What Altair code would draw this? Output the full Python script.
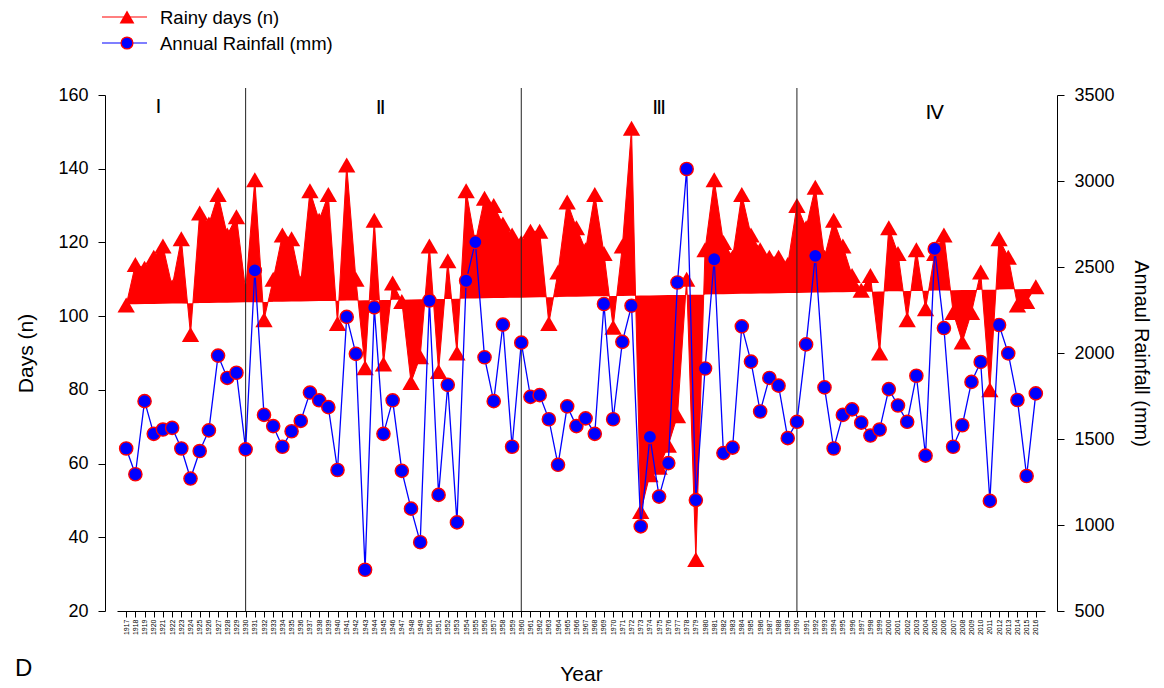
import altair as alt
import pandas as pd

years = list(range(1917, 2017))
rainy_days = [
    103, 114, 113, 116, 119, 108, 121, 95, 128, 125,   # 1917-1926
    133, 122, 127, 107, 137, 99, 110, 122, 121, 109,   # 1927-1936
    134, 126, 133, 98, 141, 110, 86, 126, 87, 109,     # 1937-1946
    104, 82, 89, 119, 85, 115, 90, 134, 120, 132,      # 1947-1956
    130, 125, 122, 120, 123, 123, 98, 112, 131, 124,   # 1957-1966
    118, 133, 117, 97, 119, 151, 47, 57, 59, 65,       # 1967-1976
    73, 110, 34, 118, 137, 120, 116, 133, 122, 118,    # 1977-1986
    116, 116, 114, 130, 124, 135, 116, 126, 119, 111,  # 1987-1996
    107, 111, 90, 124, 117, 99, 118, 102, 117, 122,    # 1997-2006
    101, 93, 101, 112, 80, 121, 116, 103, 104, 108,    # 2007-2016
]
annual_rainfall = [
    1445, 1295, 1720, 1530, 1555, 1565, 1445, 1270, 1430, 1550,
    1985, 1855, 1885, 1440, 2480, 1640, 1575, 1455, 1545, 1605,
    1770, 1725, 1685, 1320, 2210, 1995, 740, 2265, 1530, 1725,
    1315, 1095, 900, 2305, 1175, 1815, 1015, 2420, 2645, 1975,
    1720, 2165, 1455, 2060, 1745, 1755, 1615, 1350, 1690, 1575,
    1620, 1530, 2285, 1615, 2065, 2275, 992, 1512, 1165, 1360,
    2410, 3070, 1145, 1910, 2545, 1418, 1450, 2155, 1950, 1660,
    1855, 1810, 1505, 1600, 2050, 2565, 1800, 1445, 1640, 1672,
    1595, 1520, 1555, 1790, 1695, 1600, 1868, 1403, 2605, 2145,
    1455, 1580, 1832, 1948, 1140, 2163, 1998, 1727, 1285, 1765,
]
trend_start = 103.2   # rainy-days trend line at 1917
trend_end = 107.4     # rainy-days trend line at 2016
period_bounds = [1930, 1960, 1990]
period_labels = ["I", "Ⅱ", "Ⅲ", "Ⅳ"]
period_label_x = [1920.5, 1944.7, 1975.0, 2005.0]
period_label_y = [156.7, 156.5, 156.5, 155.0]
legend_labels = ["Rainy days (n)", "Annual Rainfall (mm)"]

W, H = 928, 516
FONT = "Liberation Sans"
RED = "#FF0000"
BLUE = "#0000FF"

df = pd.DataFrame({"year": years, "days": rainy_days, "rain": annual_rainfall})
bounds_df = pd.DataFrame({"year": period_bounds})
roman_df = pd.DataFrame({"x": period_label_x, "y": period_label_y, "t": period_labels})
one = pd.DataFrame({"k": [0]})

x_scale = alt.Scale(domain=[1916, 2017], nice=False, zero=False)
x_axis = alt.Axis(title="Year", values=years, format="d", labelAngle=270,
                  labelFontSize=7, labelPadding=2, tickSize=6, titleFontSize=21,
                  titlePadding=29, labelOverlap=False, labelFlush=False)
left_scale = alt.Scale(domain=[20, 160], nice=False, zero=False)
left_axis = alt.Axis(title="Days (n)", values=list(range(20, 161, 20)), offset=12,
                     tickSize=7, labelFontSize=18, labelPadding=10,
                     titleFontSize=21, titlePadding=21)
right_scale = alt.Scale(domain=[500, 3500], nice=False, zero=False)
right_axis = alt.Axis(title="Annaul Rainfall (mm)", values=list(range(500, 3501, 500)),
                      format="d", orient="right", offset=12, tickSize=7,
                      labelFontSize=18, labelPadding=10, titleFontSize=20,
                      titlePadding=16)


def X(field):
    return alt.X(field, type="quantitative", scale=x_scale, axis=x_axis)


def YL(field):
    return alt.Y(field, type="quantitative", scale=left_scale, axis=left_axis)


def YR(field):
    return alt.Y(field, type="quantitative", scale=right_scale, axis=right_axis)


trend_expr = f"{trend_start} + ({trend_end} - {trend_start}) * (datum.year - 1917) / 99"

area = alt.Chart(df).transform_calculate(trend=trend_expr).mark_area(
    color=RED, opacity=1
).encode(x=X("year"), y=YL("days"), y2=alt.Y2("trend"))

red_line = alt.Chart(df).mark_line(color=RED, strokeWidth=1).encode(
    x=X("year"), y=YL("days"))

triangles = alt.Chart(df).mark_point(
    shape="triangle-up", filled=True, size=300, color=RED, opacity=1
).encode(x=X("year"), y=YL("days"))

rules = alt.Chart(bounds_df).mark_rule(color="#222222", strokeWidth=1).encode(
    x=X("year"), y=alt.value(-7), y2=alt.value(H))

roman = alt.Chart(roman_df).mark_text(
    font="DejaVu Sans", fontSize=20, color="black", baseline="middle"
).encode(x=X("x"), y=YL("y"), text="t:N")

left = alt.layer(area, red_line, triangles, rules, roman)

blue_line = alt.Chart(df).mark_line(color=BLUE, strokeWidth=1.3).encode(
    x=X("year"), y=YR("rain"))
circles = alt.Chart(df).mark_point(
    shape="circle", filled=True, size=175, fill=BLUE, stroke=RED,
    strokeWidth=1.4, opacity=1
).encode(x=X("year"), y=YR("rain"))

# legend (drawn by hand above the plot)
leg_line1 = alt.Chart(one).mark_rule(color=RED, strokeWidth=1.2).encode(
    x=alt.value(-15), x2=alt.value(30), y=alt.value(-78))
leg_tri = alt.Chart(one).mark_point(
    shape="triangle-up", filled=True, size=220, color=RED, opacity=1
).encode(x=alt.value(10), y=alt.value(-78))
leg_text1 = alt.Chart(one).mark_text(
    font=FONT, fontSize=18.5, align="left", baseline="middle", color="black",
    text=legend_labels[0]
).encode(x=alt.value(43), y=alt.value(-77))
leg_line2 = alt.Chart(one).mark_rule(color=BLUE, strokeWidth=1.2).encode(
    x=alt.value(-15), x2=alt.value(30), y=alt.value(-52))
leg_circ = alt.Chart(one).mark_point(
    shape="circle", filled=True, size=140, fill=BLUE, stroke=RED,
    strokeWidth=1.3, opacity=1
).encode(x=alt.value(10), y=alt.value(-52))
leg_text2 = alt.Chart(one).mark_text(
    font=FONT, fontSize=18.5, align="left", baseline="middle", color="black",
    text=legend_labels[1]
).encode(x=alt.value(43), y=alt.value(-51))
panel = alt.Chart(one).mark_text(
    font=FONT, fontSize=24, align="left", baseline="top", color="black", text="D"
).encode(x=alt.value(-102), y=alt.value(562))

right = alt.layer(blue_line, circles, leg_line1, leg_tri, leg_text1,
                  leg_line2, leg_circ, leg_text2, panel)

chart = alt.layer(left, right).resolve_scale(y="independent").properties(
    width=W, height=H,
    padding={"left": 109, "top": 87, "right": 111, "bottom": 75},
    autosize=alt.AutoSizeParams(type="none"),
).configure_axis(
    labelFont=FONT, titleFont=FONT, grid=False, domainColor="black",
    tickColor="black", labelColor="black", titleColor="black",
    titleFontWeight="normal", domainWidth=1, tickWidth=1,
).configure_view(strokeWidth=0)

chart.save("out.html", embed_options={"renderer": "svg", "actions": False})
